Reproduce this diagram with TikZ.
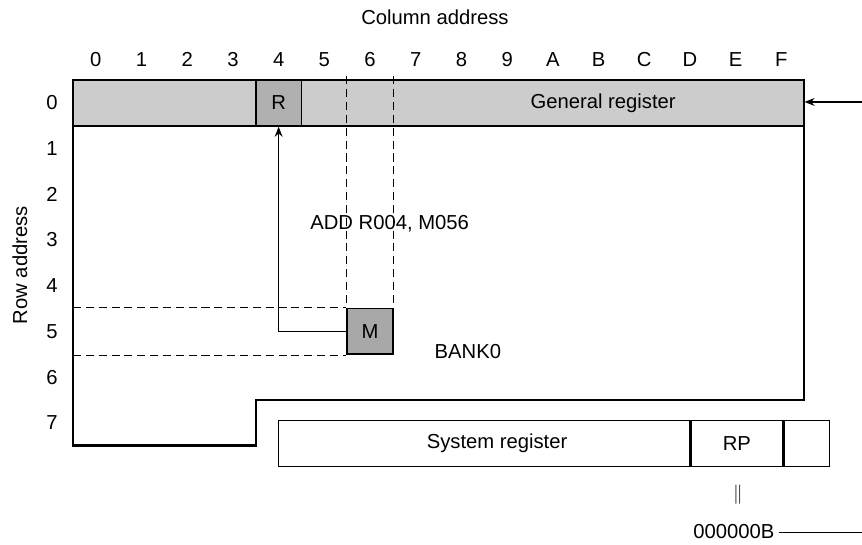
\documentclass[tikz,border=0pt]{standalone}
\usepackage{fontspec}
\setmainfont{Liberation Sans}
\usetikzlibrary{arrows.meta,calc}

\begin{document}
\begin{tikzpicture}[
 lbl/.style={font=\fontsize{12.6}{14}\selectfont,inner sep=0pt},
 cell/.style={draw,line width=1.2pt,minimum size=1cm,inner sep=0pt,
 font=\fontsize{12.6}{14}\selectfont},
 regbox/.style={draw,line width=.8pt,minimum height=1cm,inner sep=0pt},
 outline/.style={line width=1.5pt},
 guide/.style={dash pattern=on 5pt off 3pt,line width=.7pt},
 arrow/.style={-{Stealth[length=2.2mm,width=1.7mm]},line width=.8pt}
]
\useasboundingbox (-1.597,1.751) rectangle (17.265,-10.153);
% axes
\node[lbl] (coltitle) at (7.92,1.38) {Column address};
\node[lbl,rotate=90] (rowtitle) at (-1.16,-4.05) {Row address};
\foreach \c/\t in {0/0,1/1,2/2,3/3,4/4,5/5,6/6,7/7,8/8,9/9,10/A,11/B,12/C,13/D,14/E,15/F}
 \node[lbl] (col\c) at (\c+.5,.44) {\t};
\foreach \r in {0,...,7}
 \node[lbl] (row\r) at (-.46,-\r-.5) {\r};
% general register band and cells
\node[fill=gray!40,minimum width=16cm,minimum height=1cm,inner sep=0pt] (band) at (8,-.5) {};
\node[lbl] (genreg) at (11.6,-.5) {General register};
\node[cell,fill=gray!62] (r) at (4.5,-.5) {R};
\node[cell,fill=gray!68] (m) at (6.5,-5.5) {M};
% bank outline
\draw[outline] (0,0) -- (16,0) -- (16,-7) -- (4,-7) -- (4,-8) -- (0,-8) -- cycle;
\draw[line width=1.2pt] (band.south west) -- (band.south east);
% guides to M
\coordinate (left) at (0,0);
\coordinate (top) at (0,.08);
\draw[guide] (m.north west |- top) -- (m.north west);
\draw[guide] (m.north east |- top) -- (m.north east);
\draw[guide] (m.north west -| left) -- (m.north west);
\draw[guide] (m.south west -| left) -- (m.south west);
\draw[arrow] (m.west) -| (r.south);
\node[lbl] (instr) at (6.93,-3.15) {ADD R004, M056};
\node[lbl] (bank) at (8.64,-5.95) {BANK0};
% input arrow
\coordinate (gin) at (17.265,-.48);
\draw[arrow] (gin) -- (gin -| band.east);
% system register
\node[regbox,minimum width=9cm] (sysreg) at (9,-7.95) {};
\node[lbl] (systext) at (9.28,-7.95) {System register};
\node[regbox,minimum width=2cm,anchor=west,font=\fontsize{12.6}{14}\selectfont] (rp) at (sysreg.east) {RP};
\node[regbox,minimum width=1cm,anchor=west] (spare) at (rp.east) {};
\node[lbl] (eq) at (14.55,-9.08) {$\Vert$};
\node[lbl,inner sep=2.5pt] (rpval) at (14.46,-9.89) {000000B};
\coordinate (rpout) at (17.265,-9.89);
\draw[line width=.6pt] (rpval.east) -- (rpout);
\end{tikzpicture}
\end{document}
